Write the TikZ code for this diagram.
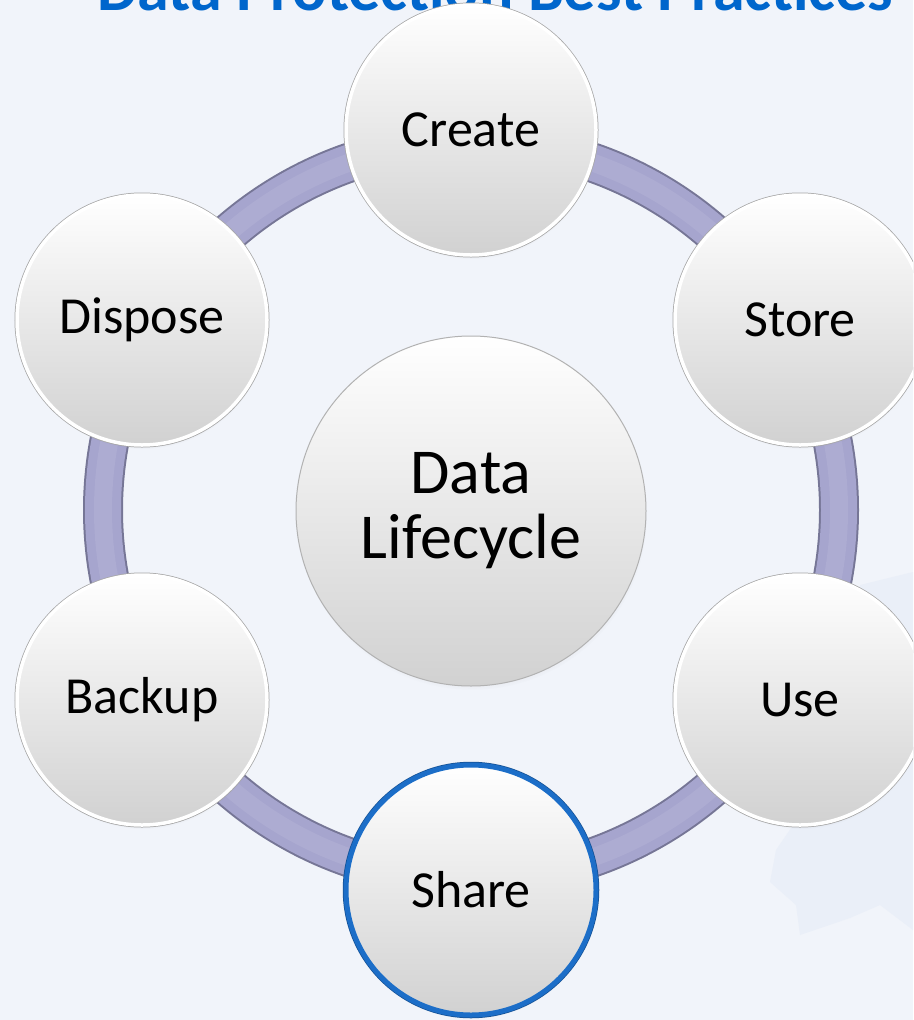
\documentclass[tikz,border=0pt]{standalone}
\usepackage{fontspec}
\setmainfont{Carlito}
\usepackage{xcolor}
\usetikzlibrary{shadows}

\definecolor{bgblue}{RGB}{241,244,250}
\definecolor{titleblue}{RGB}{0,102,204}
\definecolor{ringfill}{RGB}{166,165,206}
\definecolor{ringedge}{RGB}{118,118,150}
\definecolor{shareblue}{RGB}{28,110,200}
\definecolor{markblue}{RGB}{234,239,248}

\begin{document}
\begin{tikzpicture}[x=1pt,y=-1pt,
    stage/.style={circle,inner sep=0pt,minimum size=250pt,top color=white,middle color=black!3,bottom color=black!18,
        draw=white,line width=3.5pt,preaction={draw=black!35,line width=5pt},
        circular drop shadow={shadow xshift=1pt,shadow yshift=-4pt,opacity=0.25,shadow scale=1},
        font=\fontsize{52}{60}\selectfont},
    picked/.style={draw=shareblue,line width=5pt,preaction={draw=shareblue!75!black,line width=6.5pt}},
    hub/.style={circle,inner sep=0pt,minimum size=350pt,top color=white,middle color=black!3,bottom color=black!18,
        draw=black!30,line width=1pt,
        circular drop shadow={shadow xshift=1pt,shadow yshift=-4pt,opacity=0.25,shadow scale=1},
        align=center,font=\fontsize{64}{65}\selectfont}]

                \useasboundingbox (0,0) rectangle (913,1020);
                \clip (0,0) rectangle (913,1020);
                \fill[bgblue] (0,0) rectangle (913,1020);

                % faint mark behind the right side
                \fill[markblue] (860,585) -- (913,572) -- (913,930) -- (880,905) -- (850,918)
                    -- (800,935) -- (796,905) -- (770,882) -- (776,850) -- (800,815) -- cycle;

                \node (title) at (495.5,10) [anchor=base,text=titleblue,font=\bfseries\fontsize{64}{70}\selectfont] {Data Protection Best Practices};

                % the ring
                \coordinate (ring) at (471,510);
                \draw[ringedge,line width=40pt] (ring) circle[radius=368pt];
                \draw[ringfill,line width=36pt] (ring) circle[radius=368pt];
                \draw[ringfill!92!white,line width=18pt] (ring) circle[radius=368pt];

                \node (hub) at (471,511) [hub] {Data\\Lifecycle};

                \node (create) at (471,130) [stage] {Create};
                \node (store) at (800,320) [stage] {Store};
                \node (use) at (800,700) [stage] {Use};
                \node (share) at (471,890) [stage,picked] {Share};
                \node (backup) at (142,700) [stage] {Backup};
                \node (dispose) at (142,320) [stage] {Dispose};

            \end{tikzpicture}
\end{document}
